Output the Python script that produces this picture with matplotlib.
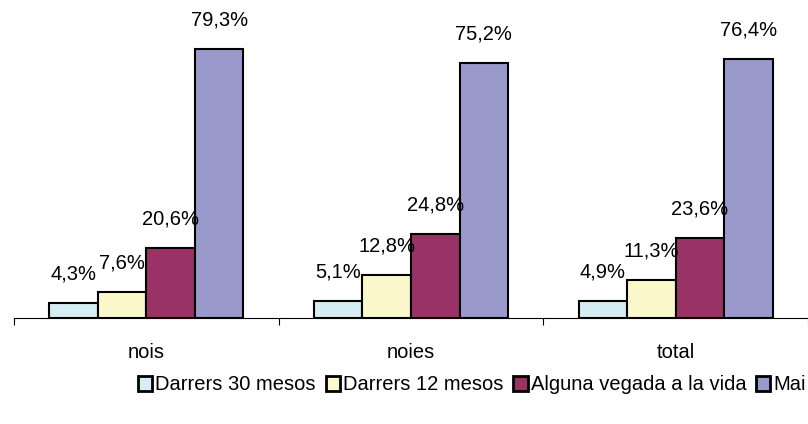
import numpy as np
import matplotlib
matplotlib.use("Agg")
import matplotlib.pyplot as plt

plt.rcParams['font.family'] = ['Liberation Sans', 'DejaVu Sans']

categories = ['nois', 'noies', 'total']
series_names = ['Darrers 30 mesos', 'Darrers 12 mesos', 'Alguna vegada a la vida', 'Mai']
values = [
    [4.3, 5.1, 4.9],
    [7.6, 12.8, 11.3],
    [20.6, 24.8, 23.6],
    [79.3, 75.2, 76.4],
]
colors = ['#D5EEF3', '#FBF8CC', '#993366', '#9999CC']

fig = plt.figure(figsize=(8.08, 4.24), dpi=100)
# axes in pixel terms: left 14, right 808, baseline at y=318
ax = fig.add_axes([14 / 808, (424 - 318) / 424, 794 / 808, 318 / 424])

group_px = 267
w = 49 / group_px
x = np.arange(len(categories))
fs = 14.5
handles = []
for i, (name, vals, c) in enumerate(zip(series_names, values, colors)):
    pos = x + (i - 1.5) * w
    b = ax.bar(pos, vals, width=w, color=c, edgecolor='black', linewidth=1.5, label=name)
    handles.append(b)
    for p, v in zip(pos, vals):
        ax.annotate(f'{v:.1f}%'.replace('.', ','), (p, v), xytext=(0, 14),
                    textcoords='offset points', ha='center', va='bottom', fontsize=fs)

ax.set_xlim(-0.5, -0.5 + 794 / group_px)
ax.set_ylim(0, 318 / 3.39)
ax.set_xticks([-0.5, 0.5, 1.5, 2.5])
ax.set_xticklabels([])
ax.set_xticks(x, minor=True)
ax.set_xticklabels(categories, minor=True, fontsize=fs)
ax.tick_params(axis='x', which='major', length=5, direction='out')
ax.tick_params(axis='x', which='minor', length=0, pad=18)
ax.set_yticks([])
for s in ['top', 'right', 'left']:
    ax.spines[s].set_visible(False)

leg = fig.legend(handles=handles, loc='center', bbox_to_anchor=(472 / 808, 1 - 385 / 424),
                 ncol=4, frameon=False, fontsize=fs, handlelength=0.7, handleheight=0.7,
                 handletextpad=0.15, columnspacing=0.5)
for h in leg.legend_handles:
    h.set_linewidth(2)

fig.savefig('out.png', dpi=100)
